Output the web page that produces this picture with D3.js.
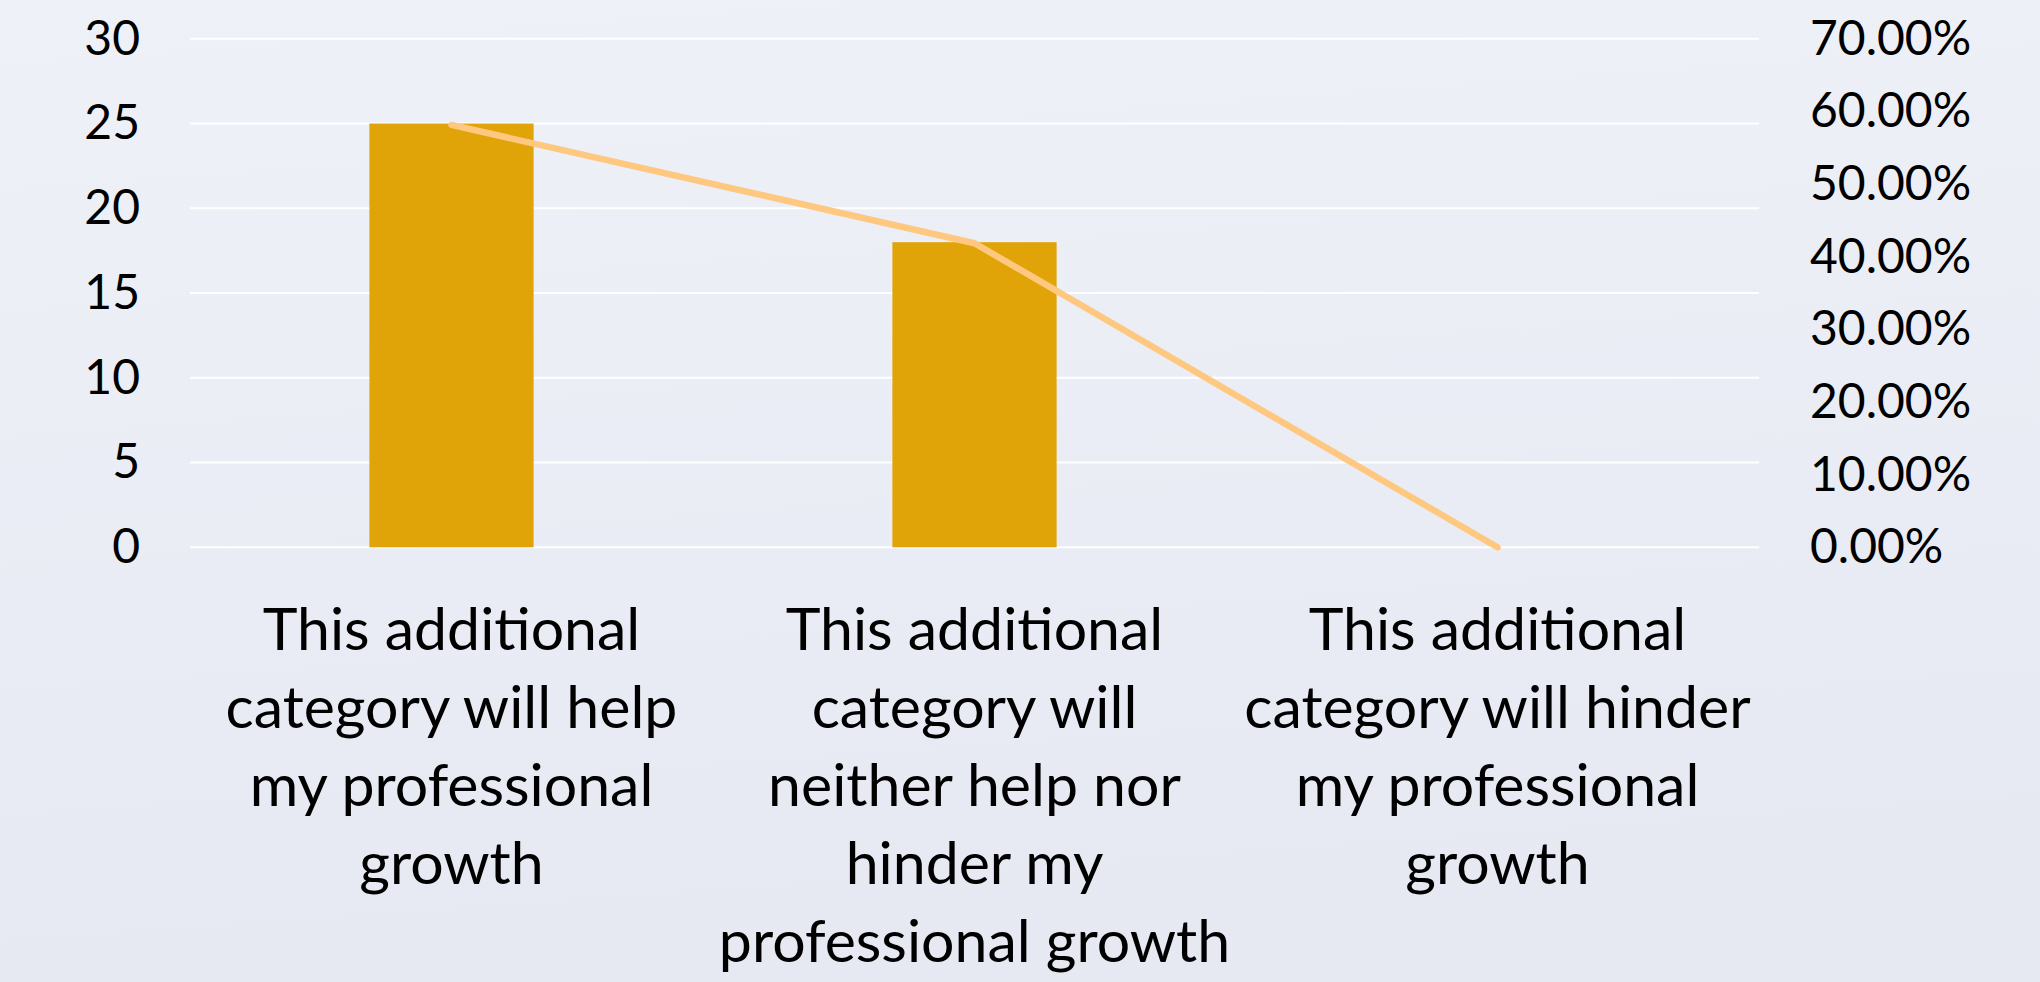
<!DOCTYPE html>
<html>
<head>
<meta charset="utf-8">
<script src="https://cdn.jsdelivr.net/npm/d3@7"></script>
<style>
  html, body { margin: 0; padding: 0; }
  body { width: 2040px; height: 982px; overflow: hidden; }
  svg text { font-family: Lato, "Noto Sans", sans-serif; fill: #000; }
</style>
</head>
<body>
<svg id="chart" width="2040" height="982"></svg>
<script>
// categories, one entry per line of the wrapped label
var categories = [
  ["This additional", "category will help", "my professional", "growth"],
  ["This additional", "category will", "neither help nor", "hinder my", "professional growth"],
  ["This additional", "category will hinder", "my professional", "growth"]
];
var counts = [25, 18, 0];
var shares = [0.5814, 0.4186, 0];
var leftTicks = [0, 5, 10, 15, 20, 25, 30];
var rightTicks = [0, 0.1, 0.2, 0.3, 0.4, 0.5, 0.6, 0.7];

var svg = d3.select("#chart");
var W = 2040, H = 982;
var plotLeft = 190, plotRight = 1759, plotTop = 38.8, plotBottom = 547.3;

// background
var grad = svg.append("defs").append("linearGradient")
  .attr("id", "bg").attr("x1", 0).attr("y1", 0).attr("x2", 0.15).attr("y2", 1);
grad.append("stop").attr("offset", 0).attr("stop-color", "#eff1f8");
grad.append("stop").attr("offset", 1).attr("stop-color", "#e6e9f2");
svg.append("rect").attr("width", W).attr("height", H).attr("fill", "url(#bg)");

var names = categories.map(function(c){ return c.join(" "); });

var x = d3.scaleBand().domain(names).range([plotLeft, plotRight])
  .paddingInner(0.686).paddingOuter(0.343);
var y = d3.scaleLinear().domain([0, 30]).range([plotBottom, plotTop]);
var y2 = d3.scaleLinear().domain([0, 0.7]).range([plotBottom, plotTop]);

// gridlines
svg.append("g").selectAll("line").data(leftTicks).join("line")
  .attr("x1", plotLeft).attr("x2", plotRight)
  .attr("y1", function(d){ return y(d); }).attr("y2", function(d){ return y(d); })
  .attr("stroke", "#ffffff").attr("stroke-width", 2);

// bars
svg.append("g").selectAll("rect").data(counts).join("rect")
  .attr("x", function(d, i){ return x(names[i]); })
  .attr("width", x.bandwidth())
  .attr("y", function(d){ return y(d); })
  .attr("height", function(d){ return y(0) - y(d); })
  .attr("fill", "#e0a408");

// line
var line = d3.line()
  .x(function(d, i){ return x(names[i]) + x.bandwidth() / 2; })
  .y(function(d){ return y2(d); });
svg.append("path").datum(shares)
  .attr("d", line)
  .attr("fill", "none")
  .attr("stroke", "#ffc880")
  .attr("stroke-width", 6.5)
  .attr("stroke-linecap", "round")
  .attr("stroke-linejoin", "round");

// axes
var yAxis = d3.axisLeft(y).tickValues(leftTicks).tickSize(0).tickPadding(50);
var gy = svg.append("g").attr("transform", "translate(" + plotLeft + ",0)").call(yAxis);
gy.select(".domain").remove();
gy.selectAll("text").attr("font-size", 48).attr("font-family", null);

var y2Axis = d3.axisRight(y2).tickValues(rightTicks).tickSize(0).tickPadding(51)
  .tickFormat(d3.format(".2%"));
var gy2 = svg.append("g").attr("transform", "translate(" + plotRight + ",0)").call(y2Axis);
gy2.select(".domain").remove();
gy2.selectAll("text").attr("font-size", 48).attr("font-family", null);

// category labels
var labels = svg.append("g").selectAll("text").data(categories).join("text")
  .attr("text-anchor", "middle")
  .attr("font-size", 59)
  .attr("x", function(d, i){ return x(names[i]) + x.bandwidth() / 2; })
  .attr("y", 650);
labels.selectAll("tspan").data(function(d){ return d; }).join("tspan")
  .attr("x", function(){ return d3.select(this.parentNode).attr("x"); })
  .attr("dy", function(d, i){ return i === 0 ? 0 : 78; })
  .text(function(d){ return d; });
</script>
</body>
</html>
